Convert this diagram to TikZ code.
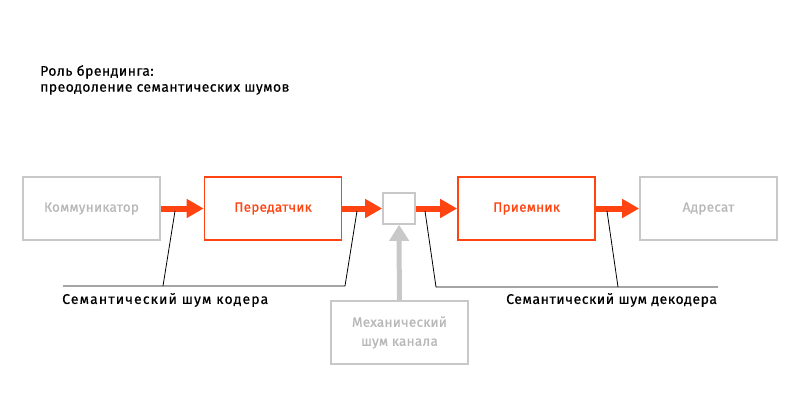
\documentclass[tikz,border=0pt]{standalone}
\usepackage{fontspec}
\setmainfont{Fira Sans}
\newfontfamily\kastenschrift{Fira Sans}[FakeBold=0.9, LetterSpace=2]
\newfontfamily\titelschrift{Fira Sans}[FakeBold=0.5, LetterSpace=3]
\newfontfamily\notizschrift{Fira Sans}[FakeBold=0.5, LetterSpace=4]
\newfontfamily\notizweit{Fira Sans}[FakeBold=0.5, LetterSpace=8]
\usetikzlibrary{positioning, arrows.meta}
\definecolor{signal}{HTML}{FF4412}
\definecolor{blass}{HTML}{C8C8C8}
\definecolor{blasstext}{HTML}{B8B8B8}
\tikzset{
    kasten/.style={
        rectangle,
        draw=blass,          % helle graue Kontur
        line width=1.6pt,
        minimum width=137pt,
        minimum height=63pt,
        text=blasstext,
        font=\kastenschrift\fontsize{13.5}{19}\selectfont
    },
    aktiv/.style={
        kasten,
        draw=signal,
        text=signal
    },
    fluss/.style={
        draw=signal,
        line width=6pt,
        -{Triangle[length=17pt,width=18pt]}
    },
    stoerung/.style={
        draw=blass,
        line width=5pt,
        -{Triangle[length=16pt,width=19pt]}
    },
    hinweis/.style={
        draw=black,
        line width=0.8pt
    },
    beschrift/.style={
        anchor=west,
        inner sep=0pt,
        font=\notizschrift\fontsize{14}{16}\selectfont
    }
}

\begin{document}
\begin{tikzpicture}[x=1pt, y=-1pt]

    \useasboundingbox (0,0) rectangle (800,420);

    % Überschrift
    \node[beschrift, align=left, anchor=north west,
          font=\titelschrift\fontsize{14}{16}\selectfont] (titel) at (40,65)
        {Роль брендинга:\\преодоление семантических шумов};

    % Obere Kette der Kästen
    \node[kasten] (komm)  at (91.5,208.5)  {Коммуникатор};
    \node[aktiv]  (sender) at (273,208.5)  {Передатчик};
    \node[kasten, minimum width=32pt, minimum height=31pt] (kanal) at (399,208.5) {};
    \node[aktiv]  (empf)  at (526.5,208.5) {Приемник};
    \node[kasten] (adr)   at (708.5,208.5) {Адресат};

    % Störquelle unten
    \node[kasten, align=center] (mech) at (399.5,332.5) {Механический\\шум канала};

    % Signalpfeile
    \draw[fluss] (komm) -- (sender);
    \draw[fluss] (sender) -- (kanal);
    \draw[fluss] (kanal) -- (empf);
    \draw[fluss] (empf) -- (adr);
    \draw[stoerung] (mech) -- (kanal);

    % Hinweislinien Kodierer
    \coordinate (kl) at (63,286);
    \coordinate (ka) at (163,286);
    \coordinate (kb) at (345,286);
    \coordinate (ka1) at (175,211);
    \coordinate (kb1) at (357,211);
    \draw[hinweis] (kl) -- (kb) -- (kb1);
    \draw[hinweis] (ka) -- (ka1);

    % Hinweislinien Dekodierer
    \coordinate (da) at (436,287);
    \coordinate (db) at (618,287);
    \coordinate (dr) at (718,287);
    \coordinate (da1) at (425,211);
    \coordinate (db1) at (607,211);
    \draw[hinweis] (da1) -- (da) -- (dr);
    \draw[hinweis] (db) -- (db1);

    % Beschriftungen
    \node[beschrift, font=\notizweit\fontsize{14}{16}\selectfont] (kodtext) at (62,300)
        {Семантический шум кодера};
    \node[beschrift] (dektext) at (506,300) {Семантический шум декодера};

\end{tikzpicture}
\end{document}
